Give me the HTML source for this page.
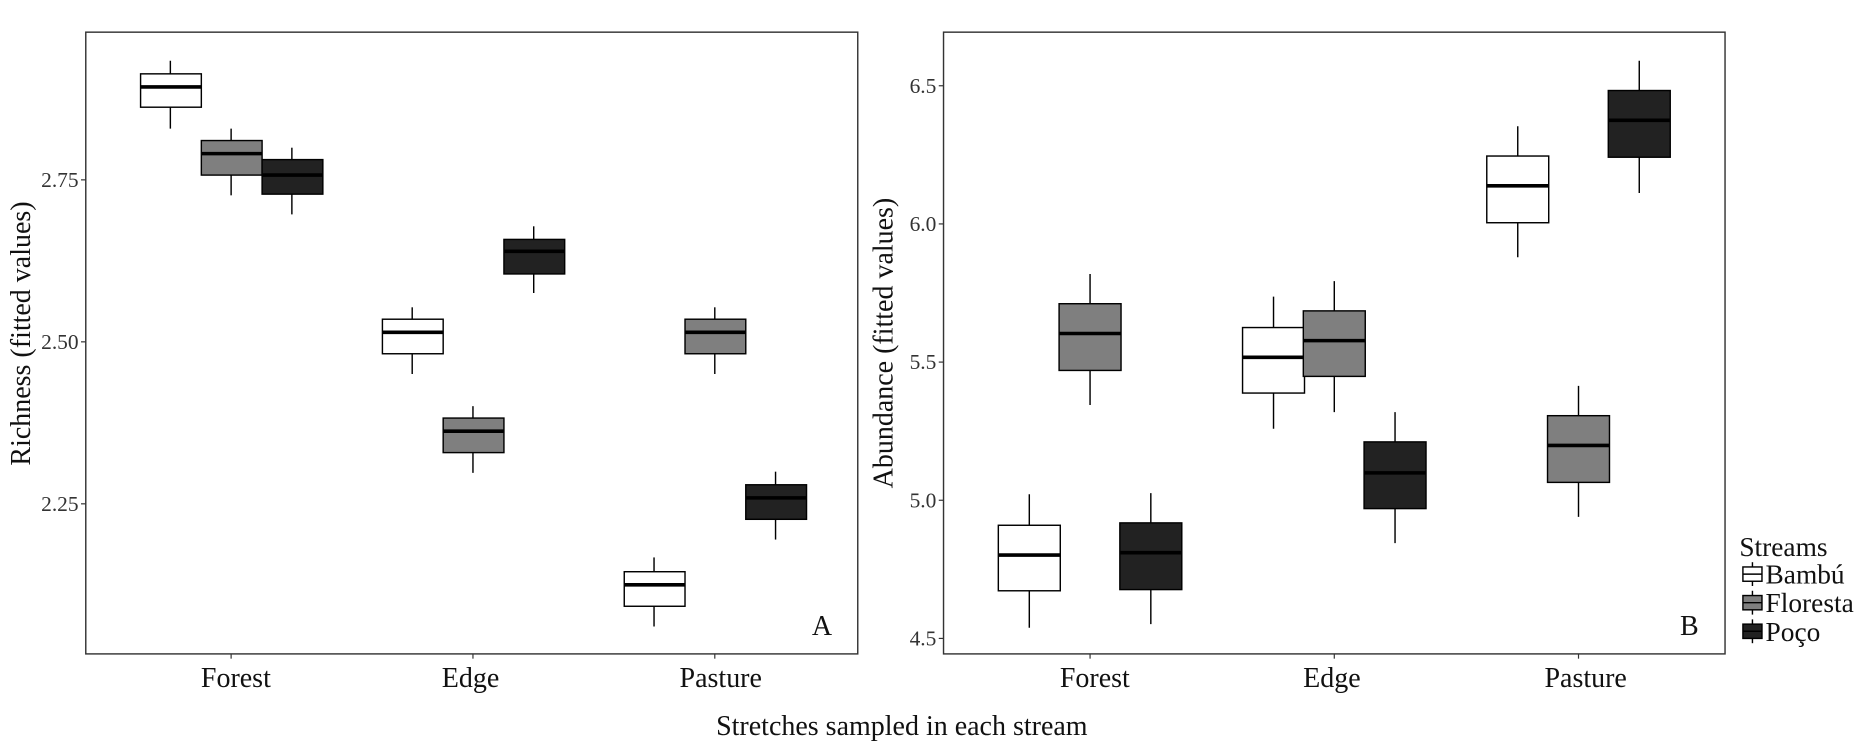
<!DOCTYPE html>
<html><head><style>html,body{margin:0;padding:0;background:#fff}svg{display:block}</style></head><body>
<svg width="1868" height="748" viewBox="0 0 1568 628" preserveAspectRatio="none" xmlns="http://www.w3.org/2000/svg" font-family="Liberation Serif, serif">
<rect width="1568" height="628" fill="#fff"/>
<g fill="none" stroke="#333" stroke-width="1.2">
<rect x="72" y="27" width="648" height="522"/>
<rect x="792" y="27" width="656" height="522"/>
</g>
<g stroke="#333" stroke-width="1">
<line x1="68" y1="151" x2="72" y2="151"/><line x1="68" y1="287" x2="72" y2="287"/><line x1="68" y1="423" x2="72" y2="423"/>
<line x1="194" y1="549" x2="194" y2="553"/><line x1="397" y1="549" x2="397" y2="553"/><line x1="600" y1="549" x2="600" y2="553"/>
<line x1="788" y1="72" x2="792" y2="72"/><line x1="788" y1="188" x2="792" y2="188"/><line x1="788" y1="304" x2="792" y2="304"/><line x1="788" y1="420" x2="792" y2="420"/><line x1="788" y1="536" x2="792" y2="536"/>
<line x1="915" y1="549" x2="915" y2="553"/><line x1="1120" y1="549" x2="1120" y2="553"/><line x1="1325" y1="549" x2="1325" y2="553"/>
</g>
<g font-size="18" fill="#333" text-anchor="end">
<text x="66" y="157">2.75</text><text x="66" y="293">2.50</text><text x="66" y="429">2.25</text>
<text x="786" y="78">6.5</text><text x="786" y="194">6.0</text><text x="786" y="310">5.5</text><text x="786" y="426">5.0</text><text x="786" y="542">4.5</text>
</g>
<g font-size="23.5" fill="#111" text-anchor="middle">
<text x="198" y="577">Forest</text><text x="395" y="577">Edge</text><text x="605" y="577">Pasture</text>
<text x="919" y="577">Forest</text><text x="1118" y="577">Edge</text><text x="1331" y="577">Pasture</text>
<text x="757" y="617">Stretches sampled in each stream</text>
<text transform="translate(25,280) rotate(-90)">Richness (fitted values)</text>
<text transform="translate(749,288) rotate(-90)">Abundance (fitted values)</text>
<text x="690" y="533">A</text><text x="1418" y="533">B</text>
</g>
<g stroke="#000" stroke-width="1.2">
<line x1="143" y1="51" x2="143" y2="108"/><rect x="118" y="62" width="51" height="28" fill="#fff"/><line x1="118" y1="73" x2="169" y2="73" stroke-width="3"/>
<line x1="194" y1="108" x2="194" y2="164"/><rect x="169" y="118" width="51" height="29" fill="#7f7f7f"/><line x1="169" y1="129" x2="220" y2="129" stroke-width="3"/>
<line x1="245" y1="124" x2="245" y2="180"/><rect x="220" y="134" width="51" height="29" fill="#222"/><line x1="220" y1="147" x2="271" y2="147" stroke-width="3"/>
<line x1="346" y1="258" x2="346" y2="314"/><rect x="321" y="268" width="51" height="29" fill="#fff"/><line x1="321" y1="279" x2="372" y2="279" stroke-width="3"/>
<line x1="397" y1="341" x2="397" y2="397"/><rect x="372" y="351" width="51" height="29" fill="#7f7f7f"/><line x1="372" y1="362" x2="423" y2="362" stroke-width="3"/>
<line x1="448" y1="190" x2="448" y2="246"/><rect x="423" y="201" width="51" height="29" fill="#222"/><line x1="423" y1="211" x2="474" y2="211" stroke-width="3"/>
<line x1="549" y1="468" x2="549" y2="526"/><rect x="524" y="480" width="51" height="29" fill="#fff"/><line x1="524" y1="491" x2="575" y2="491" stroke-width="3"/>
<line x1="600" y1="258" x2="600" y2="314"/><rect x="575" y="268" width="51" height="29" fill="#7f7f7f"/><line x1="575" y1="279" x2="626" y2="279" stroke-width="3"/>
<line x1="651" y1="396" x2="651" y2="453"/><rect x="626" y="407" width="51" height="29" fill="#222"/><line x1="626" y1="418" x2="677" y2="418" stroke-width="3"/>
<line x1="864" y1="415" x2="864" y2="527"/><rect x="838" y="441" width="52" height="55" fill="#fff"/><line x1="838" y1="466" x2="890" y2="466" stroke-width="3"/>
<line x1="915" y1="230" x2="915" y2="340"/><rect x="889" y="255" width="52" height="56" fill="#7f7f7f"/><line x1="889" y1="280" x2="941" y2="280" stroke-width="3"/>
<line x1="966" y1="414" x2="966" y2="524"/><rect x="940" y="439" width="52" height="56" fill="#222"/><line x1="940" y1="464" x2="992" y2="464" stroke-width="3"/>
<line x1="1069" y1="249" x2="1069" y2="360"/><rect x="1043" y="275" width="52" height="55" fill="#fff"/><line x1="1043" y1="300" x2="1095" y2="300" stroke-width="3"/>
<line x1="1120" y1="236" x2="1120" y2="346"/><rect x="1094" y="261" width="52" height="55" fill="#7f7f7f"/><line x1="1094" y1="286" x2="1146" y2="286" stroke-width="3"/>
<line x1="1171" y1="346" x2="1171" y2="456"/><rect x="1145" y="371" width="52" height="56" fill="#222"/><line x1="1145" y1="397" x2="1197" y2="397" stroke-width="3"/>
<line x1="1274" y1="106" x2="1274" y2="216"/><rect x="1248" y="131" width="52" height="56" fill="#fff"/><line x1="1248" y1="156" x2="1300" y2="156" stroke-width="3"/>
<line x1="1325" y1="324" x2="1325" y2="434"/><rect x="1299" y="349" width="52" height="56" fill="#7f7f7f"/><line x1="1299" y1="374" x2="1351" y2="374" stroke-width="3"/>
<line x1="1376" y1="51" x2="1376" y2="162"/><rect x="1350" y="76" width="52" height="56" fill="#222"/><line x1="1350" y1="101" x2="1402" y2="101" stroke-width="3"/>
<line x1="1471" y1="472" x2="1471" y2="492"/><rect x="1463" y="476" width="16" height="12" fill="#fff"/><line x1="1463" y1="482" x2="1479" y2="482"/>
<line x1="1471" y1="496" x2="1471" y2="516"/><rect x="1463" y="500" width="16" height="12" fill="#7f7f7f"/><line x1="1463" y1="506" x2="1479" y2="506"/>
<line x1="1471" y1="520" x2="1471" y2="540"/><rect x="1463" y="524" width="16" height="12" fill="#222"/><line x1="1463" y1="530" x2="1479" y2="530"/>
</g>
<g font-size="23" fill="#111">
<text x="1460" y="467">Streams</text>
<text x="1482" y="490">Bambú</text>
<text x="1482" y="514">Floresta</text>
<text x="1482" y="538">Poço</text>
</g>
</svg>
</body></html>
